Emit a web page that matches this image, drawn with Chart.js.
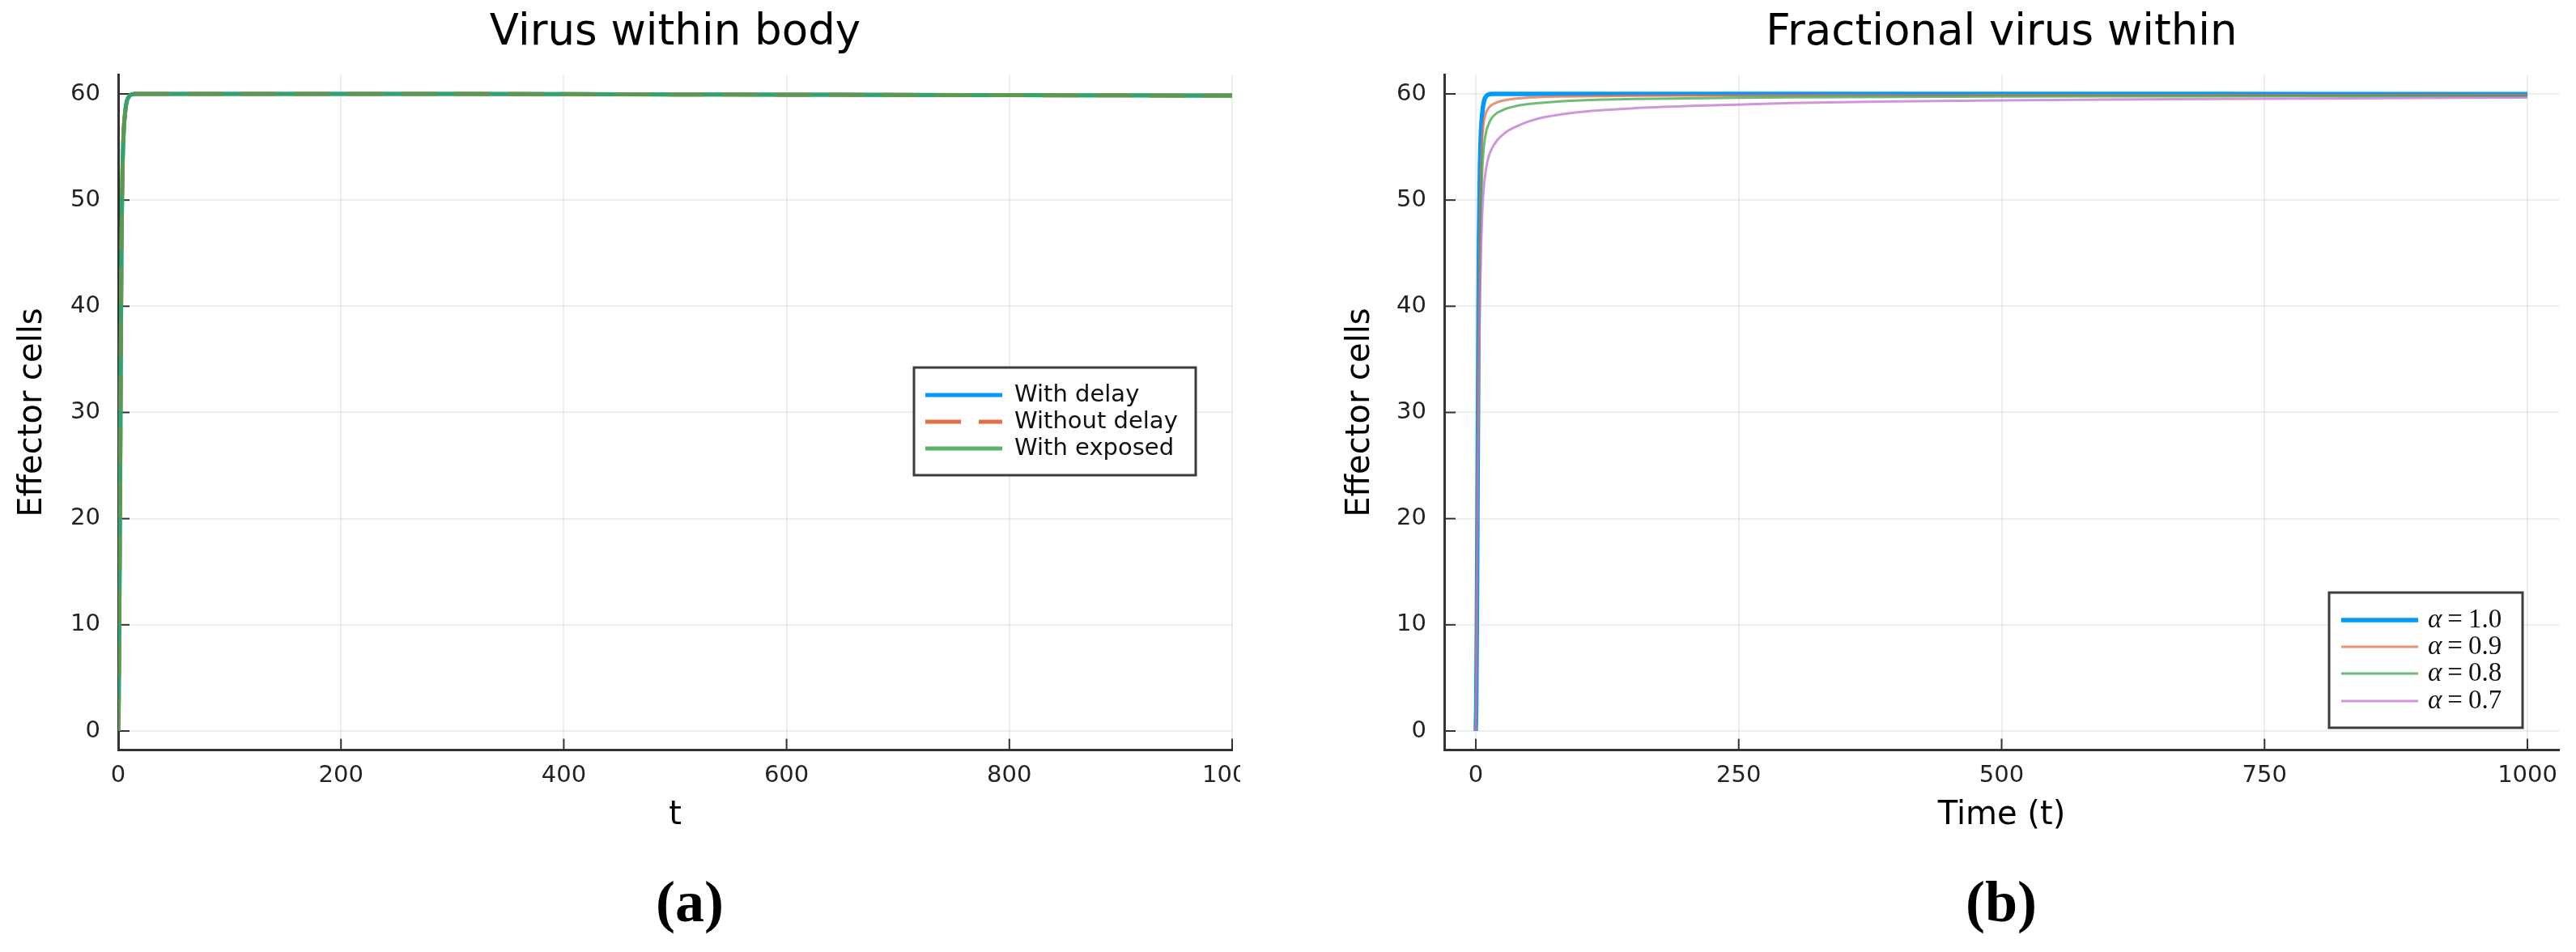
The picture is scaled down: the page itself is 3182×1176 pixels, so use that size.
<!DOCTYPE html>
<html><head><meta charset="utf-8">
<script src="https://cdn.jsdelivr.net/npm/chart.js@4.4.1/dist/chart.umd.min.js"></script>
<style>
html,body{margin:0;padding:0;background:#fff;width:3182px;height:1176px;overflow:hidden}
#ca{position:absolute;left:0;top:0}
#cb{position:absolute;left:1640px;top:0}
.cap{position:absolute;top:1070px;font-family:"Liberation Serif","Times New Roman",serif;font-weight:bold;font-size:72px;line-height:88px;transform:translateX(-50%);color:#000}
</style></head><body>
<canvas id="ca" width="1532" height="1060"></canvas>
<canvas id="cb" width="1542" height="1060"></canvas>
<div class="cap" style="left:852px">(a)</div>
<div class="cap" style="left:2472px">(b)</div>
<script>
// ---------- data ----------
const titleA = "Virus within body";
const titleB = "Fractional virus within";
const yLabel = "Effector cells";
const xLabelA = "t";
const xLabelB = "Time (t)";
const xTicksA = [0, 200, 400, 600, 800, 1000];
const xTicksB = [0, 250, 500, 750, 1000];
const yTicks = [0, 10, 20, 30, 40, 50, 60];

const seriesNamesA = ["With delay", "Without delay", "With exposed"];
const tA = [0,0.5,1,1.5,2,2.5,3,3.5,4,5,6,7,8,10,12,15,20,50,100,200,300,400,500,600,700,800,900,1000];
const withDelay    = [0,3,10,19,28,38,46,50.5,53.5,56.6,58,58.9,59.4,59.8,59.95,60,60,60,60,60,60,59.98,59.95,59.93,59.9,59.88,59.86,59.85];
const withoutDelay = [0,3,10,19,28,38,46,50.5,53.5,56.6,58,58.9,59.4,59.8,59.95,60,60,60,60,60,60,59.98,59.95,59.93,59.9,59.88,59.86,59.85];
const withExposed  = [0,3,10,19,28,38,46,50.5,53.5,56.6,58,58.9,59.4,59.8,59.95,60,60,60,60,60,60,59.98,59.95,59.93,59.9,59.88,59.86,59.85];

const seriesNamesB = ["α = 1.0", "α = 0.9", "α = 0.8", "α = 0.7"];
const tB = [0,0.5,1,1.5,2,3,4,5,6,7,8,10,12,15,20,25,30,40,50,60,80,100,125,150,200,250,300,400,500,600,700,800,900,1000];
const alpha10 = [0,3,10,19,28,46,53.5,56.6,58,58.9,59.4,59.8,59.95,60,60,60,60,60,60,60,60,60,60,60,60,60,60,60,60,60,60,59.99,59.98,59.98];
const alpha09 = [0,6,14,22,30,42,49,53,55.6,56.9,57.6,58.3,58.65,58.95,59.2,59.35,59.45,59.58,59.65,59.7,59.75,59.78,59.8,59.82,59.84,59.85,59.86,59.87,59.88,59.88,59.89,59.89,59.9,59.9];
const alpha08 = [0,6,14,21,28,38,45,49.5,52.5,54.2,55.3,56.5,57.1,57.7,58.2,58.45,58.65,58.9,59.05,59.15,59.3,59.4,59.47,59.52,59.58,59.63,59.67,59.72,59.75,59.77,59.78,59.79,59.8,59.8];
const alpha07 = [0,5,12,18,25,34,41,45.5,48.5,50.3,51.6,53.1,54,54.8,55.6,56.1,56.5,57,57.4,57.7,58.05,58.3,58.5,58.65,58.85,59.0,59.15,59.3,59.4,59.47,59.52,59.57,59.61,59.65];

// ---------- helpers ----------
const pts = (xs, ys) => xs.map((x, i) => ({x: x, y: ys[i]}));
const SANS = "DejaVu Sans";
const GRID = 'rgba(0,0,0,0.065)';

const innerTicks = {
  id: 'innerTicks',
  beforeDatasetsDraw(chart) {
    const {ctx, chartArea: a, scales: {x, y}} = chart;
    ctx.save();
    ctx.strokeStyle = '#333'; ctx.lineWidth = 2;
    x.ticks.forEach(t => { const p = x.getPixelForValue(t.value);
      ctx.beginPath(); ctx.moveTo(p, a.bottom); ctx.lineTo(p, a.bottom - 14); ctx.stroke(); });
    y.ticks.forEach(t => { const p = y.getPixelForValue(t.value);
      ctx.beginPath(); ctx.moveTo(a.left, p); ctx.lineTo(a.left + 14, p); ctx.stroke(); });
    ctx.restore();
  }
};

const boxLegend = {
  id: 'boxLegend',
  afterDraw(chart, args, o) {
    if (!o || !o.box) return;
    const ctx = chart.ctx, b = o.box;
    ctx.save();
    ctx.fillStyle = '#fff';
    ctx.fillRect(b[0], b[1], b[2] - b[0], b[3] - b[1]);
    ctx.strokeStyle = '#3c3c3c'; ctx.lineWidth = 3;
    ctx.strokeRect(b[0], b[1], b[2] - b[0], b[3] - b[1]);
    chart.data.datasets.forEach((ds, i) => {
      const y = o.rows[i];
      ctx.beginPath();
      ctx.setLineDash(ds.borderDash || []);
      ctx.strokeStyle = ds.borderColor;
      ctx.lineWidth = ds.borderWidth;
      ctx.moveTo(o.sx[0], y); ctx.lineTo(o.sx[1], y); ctx.stroke();
      ctx.setLineDash([]);
      ctx.fillStyle = '#111';
      ctx.textBaseline = 'middle'; ctx.textAlign = 'left';
      const lab = ds.label;
      if (lab.startsWith('α')) {
        ctx.font = 'italic 33px "Liberation Serif"';
        ctx.fillText('α', o.tx, y);
        const w = ctx.measureText('α').width;
        ctx.font = '33px "Liberation Serif"';
        const rest = lab.slice(1).split('=');
        ctx.fillText('=', o.tx + w + 7, y);
        const we = ctx.measureText('=').width;
        ctx.fillText(rest[1].trim(), o.tx + w + 7 + we + 7, y);
      } else {
        ctx.font = '29px "' + SANS + '"';
        ctx.fillText(lab, o.tx, y);
      }
    });
    ctx.restore();
  }
};

function xScale(min, max, ticks, label) {
  return {
    type: 'linear', min: min, max: max,
    afterBuildTicks: s => { s.ticks = ticks.map(v => ({value: v})); },
    afterFit: s => { s.height = 133.4; s.paddingLeft = 0; s.paddingRight = 0; },
    grid: {color: GRID, lineWidth: 2, drawTicks: false},
    border: {display: true, color: '#333', width: 3},
    ticks: {padding: 14, color: '#222', font: {family: SANS, size: 29}, maxRotation: 0, autoSkip: false,
            callback: v => String(v)},
    title: {display: true, text: label, color: '#000', font: {family: SANS, size: 40}, padding: {top: 0, bottom: 28}}
  };
}
function yScale(w) {
  return {
    type: 'linear', min: -1.8, max: 61.8,
    afterBuildTicks: s => { s.ticks = yTicks.map(v => ({value: v})); },
    afterFit: s => { s.width = w; s.paddingTop = 0; s.paddingBottom = 0; },
    grid: {color: GRID, lineWidth: 2, drawTicks: false},
    border: {display: true, color: '#333', width: 3},
    ticks: {padding: 22, color: '#222', font: {family: SANS, size: 29}, autoSkip: false, callback: v => String(v)},
    title: {display: true, text: yLabel, color: '#000', font: {family: SANS, size: 40}, padding: {top: 17, bottom: 0}}
  };
}
function titleOpts(text) {
  return {display: true, text: text, color: '#000', fullSize: false,
          font: {family: SANS, size: 53, weight: 'normal'}, padding: {top: 9.6, bottom: 19.2}};
}
const lineDefaults = {pointRadius: 0, fill: false, cubicInterpolationMode: 'monotone'};

// ---------- chart (a) ----------
new Chart(document.getElementById('ca'), {
  type: 'line',
  data: { datasets: [
    Object.assign({label: seriesNamesA[0], data: pts(tA, withDelay), borderColor: '#009AFA', borderWidth: 5, order: 2}, lineDefaults),
    Object.assign({label: seriesNamesA[1], data: pts(tA, withoutDelay), borderColor: '#E36F47', borderWidth: 5, borderDash: [44, 22], order: 1}, lineDefaults),
    Object.assign({label: seriesNamesA[2], data: pts(tA, withExposed), borderColor: 'rgba(62,164,78,0.85)', borderWidth: 5, order: 0}, lineDefaults)
  ]},
  options: {
    responsive: false, animation: false,
    layout: {padding: {left: 0, right: 10, top: 0, bottom: 0}},
    scales: {x: xScale(0, 1000, xTicksA, xLabelA), y: yScale(146)},
    plugins: {
      legend: {display: false}, tooltip: {enabled: false},
      title: titleOpts(titleA),
      boxLegend: {box: [1129, 454, 1477, 587], rows: [488, 521, 554], sx: [1143, 1238], tx: 1253}
    }
  },
  plugins: [innerTicks, boxLegend]
});

// ---------- chart (b) ----------
new Chart(document.getElementById('cb'), {
  type: 'line',
  data: { datasets: [
    Object.assign({label: seriesNamesB[0], data: pts(tB, alpha10), borderColor: '#009AFA', borderWidth: 5.5, order: 3}, lineDefaults),
    Object.assign({label: seriesNamesB[1], data: pts(tB, alpha09), borderColor: 'rgba(227,111,71,0.75)', borderWidth: 3, order: 2}, lineDefaults),
    Object.assign({label: seriesNamesB[2], data: pts(tB, alpha08), borderColor: 'rgba(62,164,78,0.75)', borderWidth: 3, order: 1}, lineDefaults),
    Object.assign({label: seriesNamesB[3], data: pts(tB, alpha07), borderColor: 'rgba(194,113,210,0.75)', borderWidth: 3, order: 0}, lineDefaults)
  ]},
  options: {
    responsive: false, animation: false,
    layout: {padding: {left: 0, right: 21, top: 0, bottom: 0}},
    scales: {x: xScale(-30, 1030, xTicksB, xLabelB), y: yScale(144)},
    plugins: {
      legend: {display: false}, tooltip: {enabled: false},
      title: titleOpts(titleB),
      boxLegend: {box: [1237, 732, 1476, 899], rows: [766, 799, 832, 866], sx: [1252, 1347], tx: 1359}
    }
  },
  plugins: [innerTicks, boxLegend]
});
</script>
</body></html>
